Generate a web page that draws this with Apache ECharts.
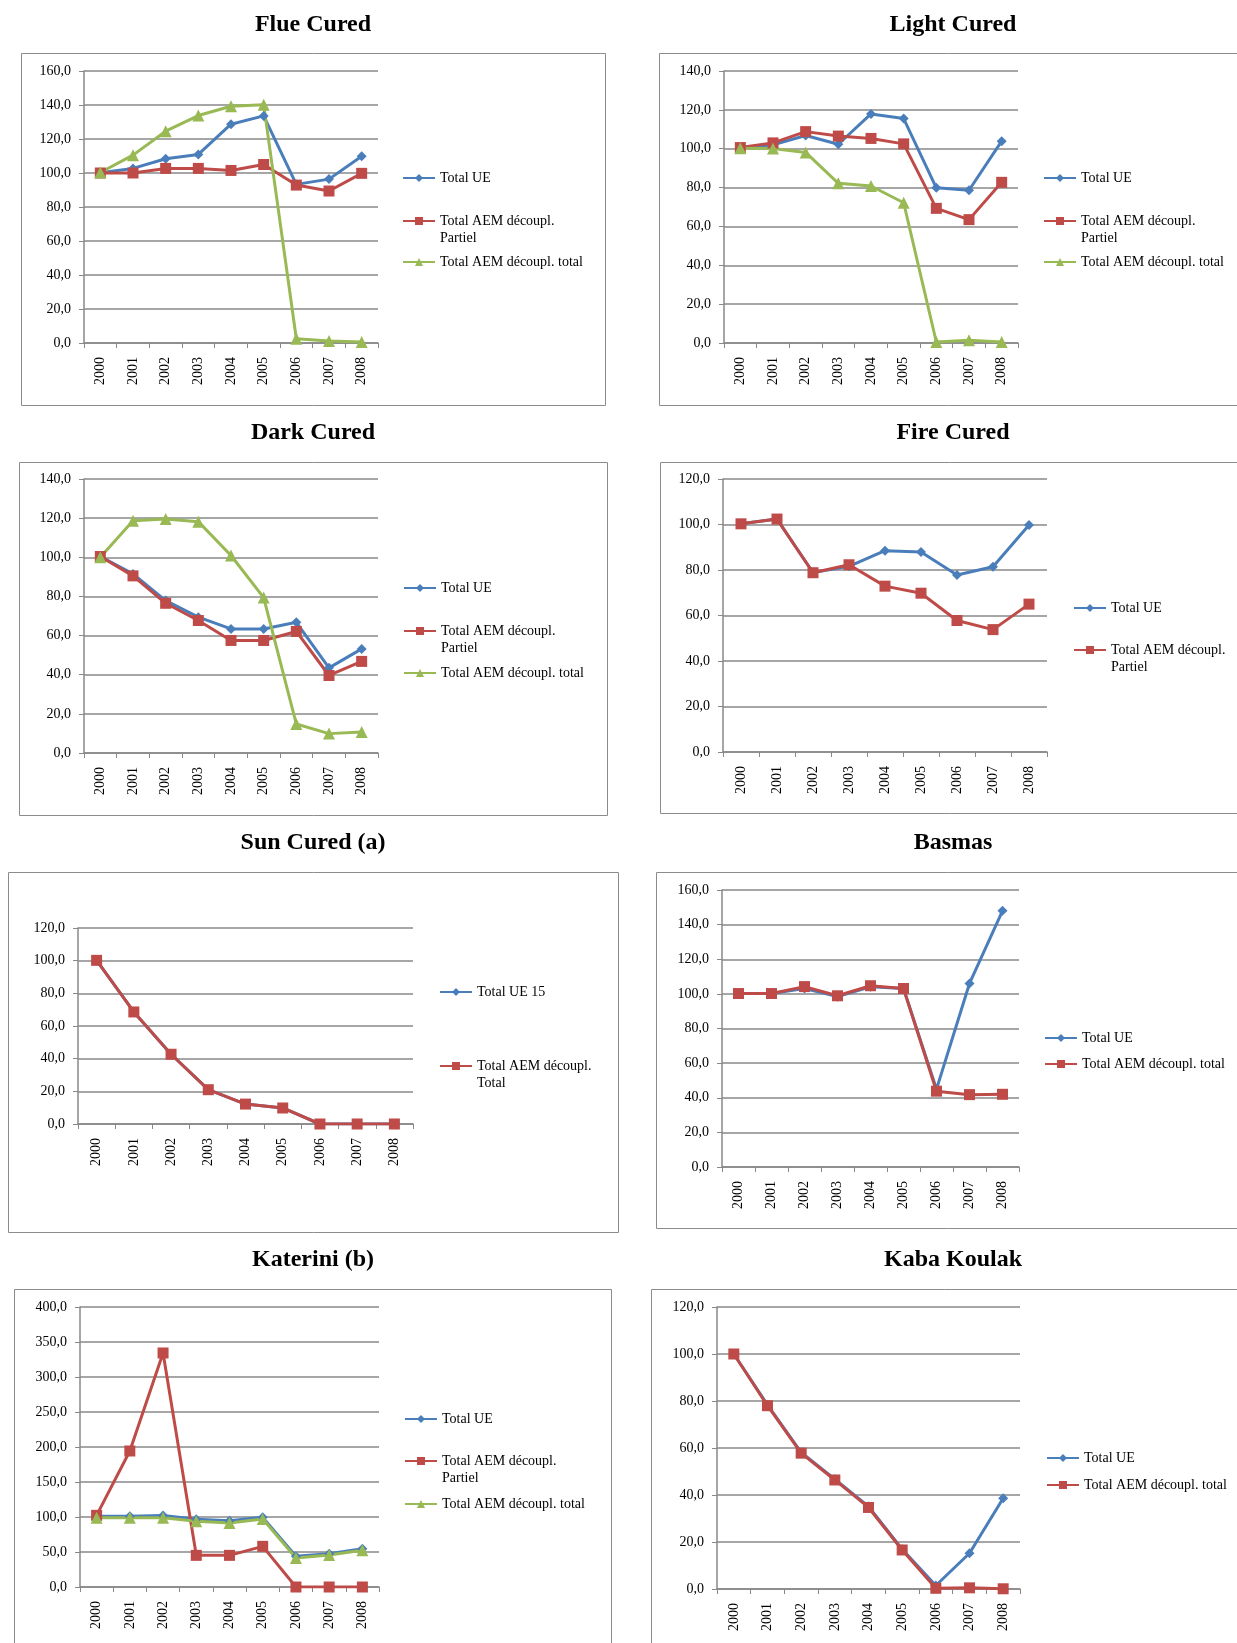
<!DOCTYPE html>
<html>
<head>
<meta charset="utf-8">
<script src="https://cdn.jsdelivr.net/npm/echarts@6/dist/echarts.min.js"></script>
<style>
  html, body { margin: 0; padding: 0; background: #fff; }
  #main { width: 1237px; height: 1643px; }
</style>
</head>
<body>
<div id="main"></div>
<script>
var years = ['2000', '2001', '2002', '2003', '2004', '2005', '2006', '2007', '2008'];

// Flue Cured
var flueUE      = [100.1, 102.7, 108.4, 110.9, 128.7, 133.6, 93.3, 96.4, 109.9];
var fluePartiel = [100.0, 100.0, 102.7, 102.7, 101.5, 105.0, 92.9, 89.4, 99.8];
var flueTotal   = [100.3, 110.5, 124.6, 133.8, 139.3, 140.2, 2.5, 1.2, 0.6];

// Light Cured
var lightUE      = [100.3, 102.0, 106.8, 102.3, 117.9, 115.5, 79.9, 78.6, 103.9];
var lightPartiel = [100.6, 103.0, 108.8, 106.5, 105.3, 102.5, 69.3, 63.5, 82.7];
var lightTotal   = [100.3, 100.1, 98.1, 82.2, 80.8, 72.2, 0.5, 1.4, 0.5];

// Dark Cured
var darkUE      = [100.4, 91.5, 77.9, 69.4, 63.4, 63.4, 66.8, 43.5, 53.2];
var darkPartiel = [100.4, 90.5, 76.5, 67.7, 57.5, 57.5, 62.1, 39.6, 46.8];
var darkTotal   = [100.0, 118.7, 119.6, 118.2, 100.9, 79.4, 14.8, 9.9, 10.7];

// Fire Cured
var fireUE      = [100.3, 102.4, 78.9, 81.6, 88.5, 87.9, 77.8, 81.4, 99.8];
var firePartiel = [100.3, 102.4, 78.8, 82.3, 72.9, 69.8, 57.8, 53.8, 65.0];

// Sun Cured (a)
var sunUE    = [100.2, 68.6, 42.7, 21.0, 12.2, 9.8, 0.0, 0.0, 0.0];
var sunTotal = [100.2, 68.6, 42.7, 21.0, 12.2, 9.8, 0.0, 0.0, 0.0];

// Basmas
var basmasUE    = [100.2, 100.2, 103.1, 98.4, 104.1, 103.1, 45.0, 106.0, 148.0];
var basmasTotal = [100.2, 100.2, 104.2, 98.9, 104.7, 103.1, 43.8, 41.8, 42.0];

// Katerini (b)
var katUE      = [101.0, 101.0, 102.0, 96.7, 94.8, 99.5, 43.8, 47.6, 54.8];
var katPartiel = [102.4, 194.3, 334.3, 45.2, 45.2, 58.1, 0.0, 0.0, 0.0];
var katTotal   = [99.0, 99.0, 99.0, 93.8, 91.4, 97.1, 41.4, 45.7, 52.4];

// Kaba Koulak
var kabaUE    = [100.0, 78.4, 58.1, 46.7, 35.1, 16.9, 1.5, 15.2, 38.6];
var kabaTotal = [100.0, 78.0, 57.8, 46.4, 34.7, 16.6, 0.3, 0.5, 0.1];

var BLUE = '#4A7EBB', RED = '#BE4B48', GREEN = '#98B954';
var GRID_COLOR = '#888888';
var FONT = 'Liberation Serif';

var styles = {
    ue:       { color: BLUE,  symbol: 'diamond',  size: 10 },
    partiel:  { color: RED,   symbol: 'rect',     size: 11 },
    total:    { color: GREEN, symbol: 'triangle', size: 12 },
    totalRed: { color: RED,   symbol: 'rect',     size: 11 }
};

// one entry per small chart: title, frame, plot area, y scale, legend
var panels = [
    { title: 'Flue Cured', tx: 313, ty: 25, box: [21, 53, 605, 405], plot: [84, 71, 378, 343], max: 160, step: 20, lx: 402,
      lines: [['Total UE', flueUE, 'ue', 178], ['Total AEM découpl.\nPartiel', fluePartiel, 'partiel', 221], ['Total AEM découpl. total', flueTotal, 'total', 262]] },
    { title: 'Light Cured', tx: 953, ty: 25, box: [659, 53, 1250, 405], plot: [724, 71, 1018, 343], max: 140, step: 20, lx: 1043,
      lines: [['Total UE', lightUE, 'ue', 178], ['Total AEM découpl.\nPartiel', lightPartiel, 'partiel', 221], ['Total AEM découpl. total', lightTotal, 'total', 262]] },
    { title: 'Dark Cured', tx: 313, ty: 433, box: [19, 462, 607, 815], plot: [84, 479, 378, 753], max: 140, step: 20, lx: 403,
      lines: [['Total UE', darkUE, 'ue', 588], ['Total AEM découpl.\nPartiel', darkPartiel, 'partiel', 631], ['Total AEM découpl. total', darkTotal, 'total', 673]] },
    { title: 'Fire Cured', tx: 953, ty: 433, box: [660, 462, 1250, 813], plot: [723, 479, 1047, 752], max: 120, step: 20, lx: 1073,
      lines: [['Total UE', fireUE, 'ue', 608], ['Total AEM découpl.\nPartiel', firePartiel, 'partiel', 650]] },
    { title: 'Sun Cured (a)', tx: 313, ty: 843, box: [8, 872, 618, 1232], plot: [78, 928, 413, 1124], max: 120, step: 20, lx: 439,
      lines: [['Total UE 15', sunUE, 'ue', 992], ['Total AEM découpl.\nTotal', sunTotal, 'totalRed', 1066]] },
    { title: 'Basmas', tx: 953, ty: 843, box: [656, 872, 1250, 1228], plot: [722, 890, 1019, 1167], max: 160, step: 20, lx: 1044,
      lines: [['Total UE', basmasUE, 'ue', 1038], ['Total AEM découpl. total', basmasTotal, 'totalRed', 1064]] },
    { title: 'Katerini (b)', tx: 313, ty: 1260, box: [14, 1289, 611, 1660], plot: [80, 1307, 379, 1587], max: 400, step: 50, lx: 404,
      lines: [['Total UE', katUE, 'ue', 1419], ['Total AEM découpl.\nPartiel', katPartiel, 'partiel', 1461], ['Total AEM découpl. total', katTotal, 'total', 1504]] },
    { title: 'Kaba Koulak', tx: 953, ty: 1260, box: [651, 1289, 1250, 1660], plot: [717, 1307, 1020, 1589], max: 120, step: 20, lx: 1046,
      lines: [['Total UE', kabaUE, 'ue', 1458], ['Total AEM découpl. total', kabaTotal, 'totalRed', 1485]] }
];

var myChart = echarts.init(document.getElementById('main'));

var grids = [], xAxes = [], yAxes = [], series = [], legends = [], graphics = [];

// legend text: a blank first line keeps the icon level with the first real line
function legendText(name) {
    var t = name.split('|')[0];
    return t.indexOf('\n') >= 0 ? '\n' + t : t;
}

panels.forEach(function (p, i) {
    // frame and title
    graphics.push({
        type: 'rect', z: 0, silent: true,
        shape: { x: p.box[0] + 0.5, y: p.box[1] + 0.5, width: p.box[2] - p.box[0], height: p.box[3] - p.box[1] },
        style: { fill: null, stroke: '#8c8c8c', lineWidth: 1 }
    });
    graphics.push({
        type: 'text', z: 10, silent: true, x: p.tx, y: p.ty,
        style: { text: p.title, fill: '#000', font: 'bold 24px "' + FONT + '"', textAlign: 'center', textVerticalAlign: 'middle' }
    });

    grids.push({ left: p.plot[0], top: p.plot[1], width: p.plot[2] - p.plot[0], height: p.plot[3] - p.plot[1] });

    xAxes.push({
        type: 'category', gridIndex: i, data: years, boundaryGap: true,
        axisLine: { lineStyle: { color: GRID_COLOR, width: 1.5 } },
        axisTick: { show: true, length: 5, lineStyle: { color: GRID_COLOR, width: 1 } },
        axisLabel: { rotate: 90, margin: 14, color: '#000', fontFamily: FONT, fontSize: 14, interval: 0 },
        splitLine: { show: false }
    });
    yAxes.push({
        type: 'value', gridIndex: i, min: 0, max: p.max, interval: p.step,
        axisLine: { show: true, lineStyle: { color: GRID_COLOR, width: 1.5 } },
        axisTick: { show: true, length: 5, lineStyle: { color: GRID_COLOR, width: 1 } },
        axisLabel: {
            margin: 13, color: '#000', fontFamily: FONT, fontSize: 14,
            formatter: function (v) { return v.toFixed(1).replace('.', ','); }
        },
        splitLine: { show: true, lineStyle: { color: GRID_COLOR, width: 1.5 } }
    });

    p.lines.forEach(function (l) {
        var st = styles[l[2]];
        var sname = l[0] + '|' + i;
        var twoLines = l[0].indexOf('\n') >= 0;
        series.push({
            type: 'line', name: sname, xAxisIndex: i, yAxisIndex: i, data: l[1],
            symbol: st.symbol, symbolSize: st.size, showAllSymbol: true,
            lineStyle: { color: st.color, width: 3 },
            itemStyle: { color: st.color },
            emphasis: { disabled: true },
            animation: false
        });
        legends.push({
            data: [sname],
            left: p.lx,
            top: l[3] - (twoLines ? 25.5 : 8.5),
            padding: 0, itemGap: 0, itemWidth: 32, itemHeight: 10,
            selectedMode: false,
            textStyle: { fontFamily: FONT, fontSize: 14, color: '#000', lineHeight: 17 },
            formatter: legendText
        });
    });
});

myChart.setOption({
    backgroundColor: '#fff',
    animation: false,
    grid: grids,
    xAxis: xAxes,
    yAxis: yAxes,
    legend: legends,
    graphic: graphics,
    series: series
});
</script>
</body>
</html>
